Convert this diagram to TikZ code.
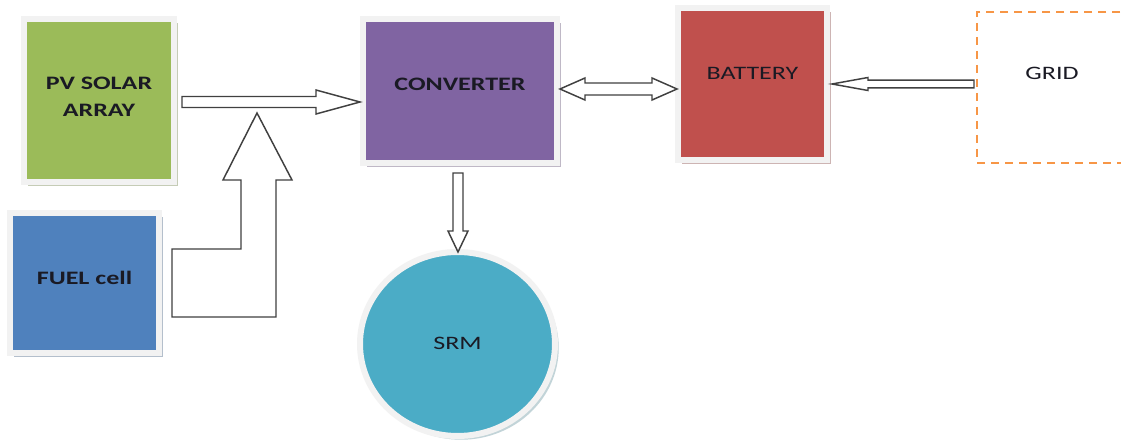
\documentclass[tikz,border=0pt]{standalone}
\usepackage{fontspec}
\usetikzlibrary{calc}
\usetikzlibrary{shadows}
\usetikzlibrary{shapes.geometric}

\newfontfamily\labelfont[FakeStretch=1.37]{Carlito}

\definecolor{pvgreen}{HTML}{9BBB59}
\definecolor{fuelblue}{HTML}{4F81BD}
\definecolor{convpurple}{HTML}{8064A2}
\definecolor{battred}{HTML}{C0504D}
\definecolor{srmaqua}{HTML}{4BACC6}
\definecolor{gridorange}{HTML}{F79646}
\definecolor{framegray}{HTML}{F2F2F2}
\definecolor{arrowgray}{HTML}{404040}
\definecolor{inkdark}{HTML}{1A1A24}

\tikzset{
  framed/.style={fill=#1, draw=framegray, line width=4.5pt, inner sep=0pt},
  unit/.style={rectangle, framed=#1,
    drop shadow={shadow xshift=3pt, shadow yshift=-3pt, fill=#1!45!gray, opacity=.5}},
  unittext/.style={font=\labelfont\fontsize{14.25}{20.25}\selectfont, text=inkdark, align=center},
  boldtext/.style={unittext, font=\labelfont\bfseries\fontsize{14.25}{20.25}\selectfont},
  blockarrow/.style={draw=arrowgray, fill=white, line width=1.1pt, line join=miter},
}

% horizontal block arrow: tail, tip, shaft half width, head half width, head length
\newcommand{\harrow}[5]{%
  \draw[blockarrow] (#2) -- ($(#2)-(#5,#4)$) -- ($(#2)-(#5,#3)$) -- ($(#1)-(0,#3)$)
    -- ($(#1)+(0,#3)$) -- ($(#2)-(#5,-#3)$) -- ($(#2)-(#5,-#4)$) -- cycle;}
% vertical block arrow, same arguments
\newcommand{\varrow}[5]{%
  \draw[blockarrow] (#2) -- ($(#2)-(#4,#5)$) -- ($(#2)-(#3,#5)$) -- ($(#1)-(#3,0)$)
    -- ($(#1)+(#3,0)$) -- ($(#2)-(-#3,#5)$) -- ($(#2)-(-#4,#5)$) -- cycle;}

\begin{document}
\begin{tikzpicture}[x=0.75pt,y=-0.75pt]
\clip (0,0) rectangle (1121,441);
\fill[white] (0,0) rectangle (1121,441);

% sources, converter and storage
\node[unit=pvgreen, minimum width=112.5pt, minimum height=122.25pt] (pv) at (99,100.5) {};
\node[unit=fuelblue, minimum width=111.75pt, minimum height=105pt] (fuel) at (84.5,283) {};
\node[unit=convpurple, minimum width=145.5pt, minimum height=108pt] (conv) at (460,91) {};
\node[unit=battred, minimum width=111.75pt, minimum height=114pt] (batt) at (752.5,84) {};
\node[draw=gridorange, dashed, dash pattern=on 6pt off 4.5pt, line width=1.5pt,
  minimum width=112.5pt, minimum height=113.25pt] (grid) at (1052,87.5) {};
\node[ellipse, framed=srmaqua, minimum width=146.25pt, minimum height=138pt,
  drop shadow={shadow xshift=2.8pt, shadow yshift=-2.8pt, fill=srmaqua!45!gray, opacity=.4}] (srm) at (457.5,344) {};

\node[boldtext] (pvtext) at ([yshift=3pt]pv.center) {PV SOLAR\\ARRAY};
\node[boldtext] (fueltext) at ([yshift=3.75pt]fuel.center) {FUEL cell};
\node[boldtext] (convtext) at ([yshift=5.25pt]conv.center) {CONVERTER};
\node[unittext] (batttext) at ([yshift=8.25pt]batt.center) {BATTERY};
\node[unittext] (gridtext) at ([yshift=10.9pt]grid.center) {GRID};
\node[unittext] (srmtext) at ([yshift=0.75pt]srm.center) {SRM};

% PV -> converter
\coordinate (pvtail) at ($(pv.east)+(5,1.5)$);
\coordinate (pvtip) at (conv.west |- pvtail);
\harrow{pvtail}{pvtip}{5.5}{12}{44}

% fuel cell joins the PV line
\coordinate (fueltail) at ($(fuel.east)+(10,0)$);
\coordinate (merge) at ($(pvtail)+(75,11)$);
\draw[blockarrow] ($(fueltail)+(0,-34)$) -- ($(merge |- fueltail)+(-16,-34)$)
  -- ($(merge)+(-16,67)$) -- ($(merge)+(-34,67)$) -- (merge) -- ($(merge)+(35,67)$)
  -- ($(merge)+(19,67)$) -- ($(merge |- fueltail)+(19,34)$) -- ($(fueltail)+(0,34)$) -- cycle;

% converter <-> battery
\coordinate (convR) at ($(conv.east)+(0,-2)$);
\coordinate (battL) at ($(batt.west |- convR)+(2,0)$);
\draw[blockarrow] (convR) -- ++(25,-11) -- ++(0,5) -- ($(battL)+(-25,-6)$) -- ++(0,-5)
  -- (battL) -- ++(-25,11) -- ++(0,-5) -- ($(convR)+(25,6)$) -- ++(0,5) -- cycle;

% grid -> battery
\coordinate (gridtail) at ($(grid.west)+(-2,-3.5)$);
\coordinate (battR) at ($(batt.east |- gridtail)+(2,0)$);
\harrow{gridtail}{battR}{3.8}{6.5}{-36}

% converter -> SRM
\coordinate (convout) at ($(conv.south)+(-2,7)$);
\coordinate (srmin) at ($(srm.north -| convout)+(0,3)$);
\varrow{convout}{srmin}{5}{10}{21}

\end{tikzpicture}
\end{document}
